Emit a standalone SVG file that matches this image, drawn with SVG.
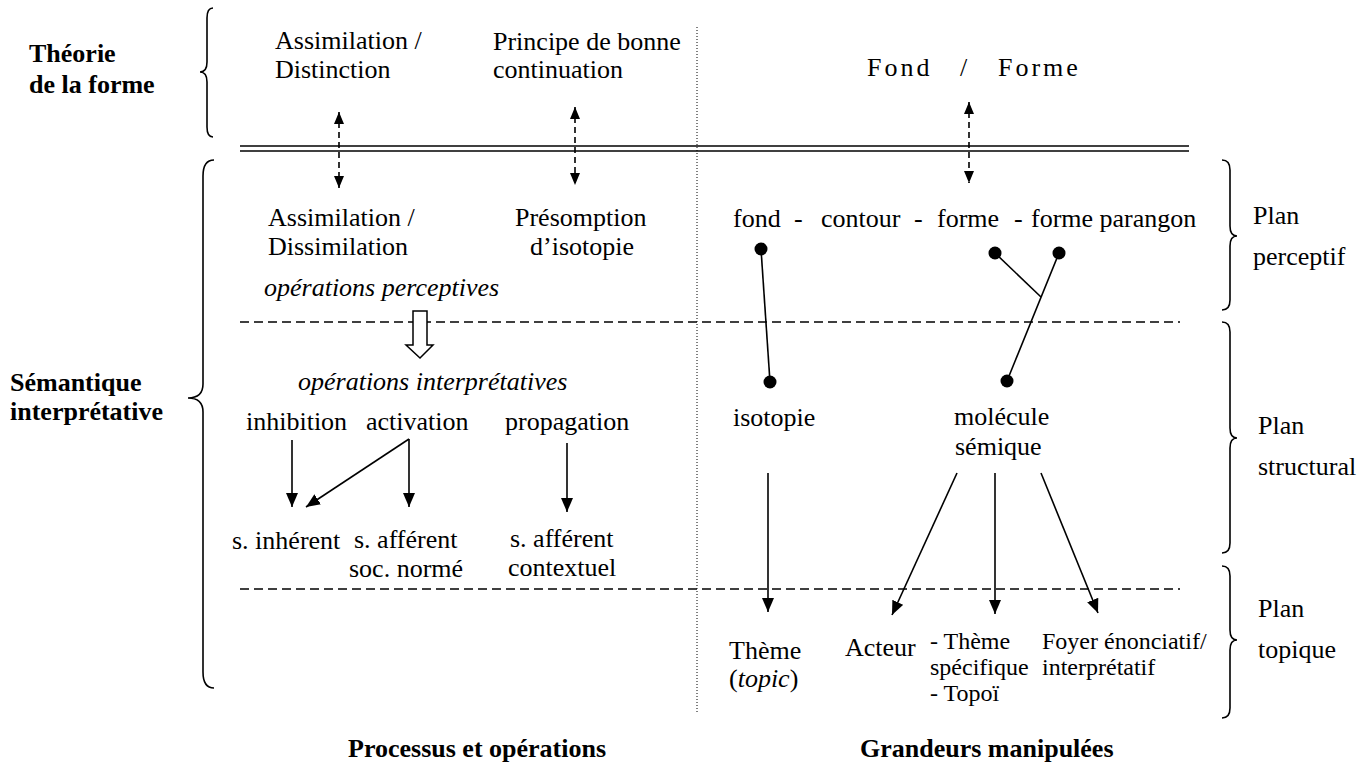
<svg xmlns="http://www.w3.org/2000/svg" width="1367" height="769" viewBox="0 0 1367 769" font-family="'Liberation Serif', 'Times New Roman', Tinos, 'DejaVu Serif', serif">
<style>
text{font-family:'Liberation Serif','Times New Roman',Tinos,'DejaVu Serif',serif;font-size:26px;fill:#000}
.b{font-weight:bold}
.i{font-style:italic}
.s{font-size:24px}
.sp{letter-spacing:3px}
.ln{stroke:#000;stroke-width:1.6;fill:none}
.dash{stroke:#000;stroke-width:1.6;stroke-dasharray:9 5;fill:none}
.dd{stroke:#000;stroke-width:1.6;stroke-dasharray:6 4;fill:none}
.dot{stroke:#000;stroke-width:1;stroke-dasharray:1 2;fill:none}
.br{stroke:#000;stroke-width:1.6;fill:none}
</style>
<defs>
<marker id="ah" viewBox="0 0 14 12" refX="14" refY="6" markerWidth="14" markerHeight="12" markerUnits="userSpaceOnUse" orient="auto-start-reverse"><path d="M0,0 L14,6 L0,12 z" fill="#000"/></marker>
<marker id="sh" viewBox="0 0 12 10" refX="12" refY="5" markerWidth="12" markerHeight="10" markerUnits="userSpaceOnUse" orient="auto-start-reverse"><path d="M0,0 L12,5 L0,10 z" fill="#000"/></marker>
</defs>
<rect width="1367" height="769" fill="#fff"/>

<g id="frame">
<line class="ln" x1="240" y1="146" x2="1189" y2="146"/>
<line class="ln" x1="240" y1="151" x2="1189" y2="151"/>
<line class="dot" x1="697" y1="27" x2="697" y2="712"/>
<line class="dash" x1="240" y1="322" x2="1180" y2="322"/>
<line class="dash" x1="240" y1="589" x2="1180" y2="589"/>
</g>

<g id="label-theorie">
<path class="br" d="M213,8 Q207,8 207,18 L207,62 Q207,72 200,72 Q207,72 207,82 L207,127 Q207,137 213,137"/>
<text class="b" x="29" y="62">Théorie</text>
<text class="b" x="29" y="93">de la forme</text>
</g>

<g id="label-semantique">
<path class="br" d="M214,160 Q203,160 203,176 L203,384 Q203,398 188,398 Q203,398 203,412 L203,672 Q203,688 214,688"/>
<text class="b" x="10" y="391">Sémantique</text>
<text class="b" x="10" y="420">interprétative</text>
</g>

<g id="label-perceptif">
<path class="br" d="M1222,160 Q1230,160 1230,170 L1230,226 Q1230,236 1237,236 Q1230,236 1230,246 L1230,300 Q1230,310 1222,310"/>
<text x="1253" y="224">Plan</text>
<text x="1253" y="265">perceptif</text>
</g>

<g id="label-structural">
<path class="br" d="M1222,322 Q1230,322 1230,332 L1230,428 Q1230,438 1237,438 Q1230,438 1230,448 L1230,543 Q1230,553 1222,553"/>
<text x="1258" y="434">Plan</text>
<text x="1258" y="475">structural</text>
</g>

<g id="label-topique">
<path class="br" d="M1222,566 Q1230,566 1230,576 L1230,630 Q1230,640 1237,640 Q1230,640 1230,650 L1230,708 Q1230,718 1222,718"/>
<text x="1258" y="617">Plan</text>
<text x="1258" y="658">topique</text>
</g>

<g id="n-assim-dist">
<text x="275" y="49">Assimilation /</text>
<text x="275" y="78">Distinction</text>
</g>
<g id="n-principe">
<text x="493" y="50">Principe de bonne</text>
<text x="493" y="78">continuation</text>
</g>
<g id="n-fond-forme">
<text class="sp" x="867" y="76">Fond</text>
<text x="960" y="76">/</text>
<text class="sp" x="998" y="76">Forme</text>
</g>

<g id="n-assim-diss">
<text x="268" y="226">Assimilation /</text>
<text x="268" y="255">Dissimilation</text>
</g>
<g id="n-presomption">
<text x="515" y="226">Présomption</text>
<text x="530" y="255">d’isotopie</text>
</g>
<g id="n-op-perceptives">
<text class="i" x="264" y="296">opérations perceptives</text>
</g>
<g id="n-hollow-arrow">
<polygon points="413,311 427,311 427,345 433,345 420,358 406,345 413,345" fill="#fff" stroke="#000" stroke-width="1.5"/>
</g>
<g id="n-op-interpretatives">
<text class="i" x="298" y="390">opérations interprétatives</text>
</g>
<g id="n-inhibition"><text x="246" y="430">inhibition</text></g>
<g id="n-activation"><text x="366" y="430">activation</text></g>
<g id="n-propagation"><text x="505" y="430">propagation</text></g>
<g id="n-inherent"><text x="232" y="549">s. inhérent</text></g>
<g id="n-afferent-soc">
<text x="354" y="548">s. afférent</text>
<text x="349" y="577">soc. normé</text>
</g>
<g id="n-afferent-ctx">
<text x="510" y="547">s. afférent</text>
<text x="508" y="576">contextuel</text>
</g>

<g id="n-chain">
<text x="733" y="227">fond</text>
<text x="794" y="227">-</text>
<text x="821" y="227">contour</text>
<text x="914" y="227">-</text>
<text x="937" y="227">forme</text>
<text x="1014" y="227">-</text>
<text x="1031" y="227">forme parangon</text>
</g>
<g id="n-isotopie"><text x="733" y="426">isotopie</text></g>
<g id="n-molecule">
<text x="954" y="425">molécule</text>
<text x="955" y="455">sémique</text>
</g>
<g id="n-theme"><text x="729" y="659">Thème</text><text x="729" y="687">(<tspan class="i">topic</tspan>)</text></g>
<g id="n-acteur"><text x="845" y="656">Acteur</text></g>
<g id="n-theme-spec">
<text class="s" x="930" y="649">- Thème</text>
<text class="s" x="930" y="675">spécifique</text>
<text class="s" x="930" y="701">- Topoï</text>
</g>
<g id="n-foyer">
<text class="s" x="1042" y="649">Foyer énonciatif/</text>
<text class="s" x="1042" y="675">interprétatif</text>
</g>

<g id="footer">
<text class="b" x="348" y="757">Processus et opérations</text>
<text class="b" x="860" y="757">Grandeurs manipulées</text>
</g>

<g id="connectors">
<line class="dd" x1="339" y1="112" x2="339" y2="188" marker-start="url(#sh)" marker-end="url(#sh)"/>
<line class="dd" x1="575" y1="107" x2="575" y2="185" marker-start="url(#sh)" marker-end="url(#sh)"/>
<line class="dd" x1="969" y1="102" x2="969" y2="183" marker-start="url(#sh)" marker-end="url(#sh)"/>
<line class="ln" x1="292" y1="440" x2="292" y2="507" marker-end="url(#ah)"/>
<line class="ln" x1="409" y1="439" x2="409" y2="507" marker-end="url(#ah)"/>
<line class="ln" x1="409" y1="439" x2="306" y2="507" marker-end="url(#ah)"/>
<line class="ln" x1="567" y1="443" x2="567" y2="512" marker-end="url(#ah)"/>
<line class="ln" x1="761" y1="249" x2="770" y2="382"/>
<circle cx="761" cy="249" r="6.5"/>
<circle cx="770" cy="382" r="6.5"/>
<line class="ln" x1="995" y1="253" x2="1041" y2="297"/>
<line class="ln" x1="1059" y1="253" x2="1007" y2="381"/>
<circle cx="995" cy="253" r="6.5"/>
<circle cx="1059" cy="253" r="6.5"/>
<circle cx="1007" cy="381" r="6.5"/>
<line class="ln" x1="768" y1="473" x2="768" y2="612" marker-end="url(#ah)"/>
<line class="ln" x1="957" y1="473" x2="892" y2="615" marker-end="url(#ah)"/>
<line class="ln" x1="995" y1="473" x2="995" y2="614" marker-end="url(#ah)"/>
<line class="ln" x1="1041" y1="473" x2="1098" y2="613" marker-end="url(#ah)"/>
</g>
</svg>
